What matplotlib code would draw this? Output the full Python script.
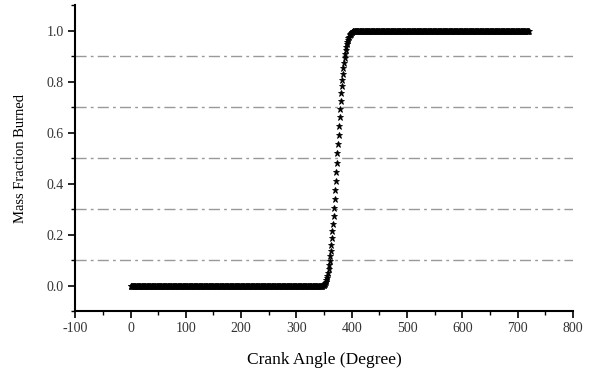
import numpy as np
import matplotlib
matplotlib.use("Agg")
import matplotlib.pyplot as plt
from matplotlib.ticker import MultipleLocator

# ---- data ----
# crank angle, 1 degree steps
angle_pre = np.arange(0, 345)          # before start of combustion
mfb_pre = np.zeros(len(angle_pre))     # flat at 0.0

angle_comb = np.arange(345, 405)       # combustion phase
mfb_comb = [0.0, 0.00003, 0.00024, 0.00081, 0.0019, 0.0037, 0.0065, 0.0103,
            0.0153, 0.0217, 0.0296, 0.0392, 0.0506, 0.0639, 0.0792, 0.0965,
            0.1158, 0.1373, 0.1608, 0.1862, 0.2137, 0.2430, 0.2739, 0.3063,
            0.3400, 0.3747, 0.4103, 0.4465, 0.4830, 0.5195, 0.5558, 0.5915,
            0.6265, 0.6604, 0.6931, 0.7243, 0.7539, 0.7818, 0.8078, 0.8318,
            0.8539, 0.8739, 0.8921, 0.9083, 0.9227, 0.9353, 0.9464, 0.9559,
            0.9640, 0.9709, 0.9766, 0.9814, 0.9854, 0.9886, 0.9912, 0.9933,
            0.995, 0.997, 0.998, 0.999]

angle_post = np.arange(405, 721)       # after end of combustion
mfb_post = np.ones(len(angle_post))    # flat at 1.0

grid_levels = [0.1, 0.3, 0.5, 0.7, 0.9]
x_ticks = [-100, 0, 100, 200, 300, 400, 500, 600, 700, 800]
x_tick_labels = ['-100', '0', '100', '200', '300', '400', '500', '600', '700', '800']
y_ticks = [0.0, 0.2, 0.4, 0.6, 0.8, 1.0]
y_tick_labels = ['0.0', '0.2', '0.4', '0.6', '0.8', '1.0']

angle = np.concatenate([angle_pre, angle_comb, angle_post])
mfb = np.concatenate([mfb_pre, mfb_comb, mfb_post])

# ---- figure ----
plt.rcParams['font.family'] = ['Liberation Serif', 'DejaVu Serif']
fig = plt.figure(figsize=(5.92, 3.70), dpi=100)
ax = fig.add_axes([0.127, 0.159, 0.841, 0.827])

for g in grid_levels:
    ax.axhline(g, color='#999999', lw=1.0, ls=(0, (8, 3, 2, 3)), zorder=1)

ax.plot(angle, mfb, ls='none', marker='*', color='black',
        markersize=4.8, markeredgewidth=0.6, zorder=3)

ax.set_xlim(-100, 800)
ax.set_ylim(-0.1, 1.1)
ax.set_xticks(x_ticks)
ax.set_xticklabels(x_tick_labels)
ax.xaxis.set_minor_locator(MultipleLocator(50))
ax.set_yticks(y_ticks)
ax.set_yticklabels(y_tick_labels)
ax.yaxis.set_minor_locator(MultipleLocator(0.1))

for s in ['top', 'right']:
    ax.spines[s].set_visible(False)
for s in ['left', 'bottom']:
    ax.spines[s].set_linewidth(1.5)

ax.tick_params(which='major', direction='out', length=5, width=1.2,
               labelsize=10, colors='black', labelcolor='#333333', pad=3)
ax.tick_params(which='minor', direction='out', length=3, width=1.0)

ax.set_xlabel('Crank Angle (Degree)', fontsize=12.5, labelpad=12)
ax.set_ylabel('Mass Fraction Burned', fontsize=10.5, labelpad=14)

fig.savefig('out.png', dpi=100)
